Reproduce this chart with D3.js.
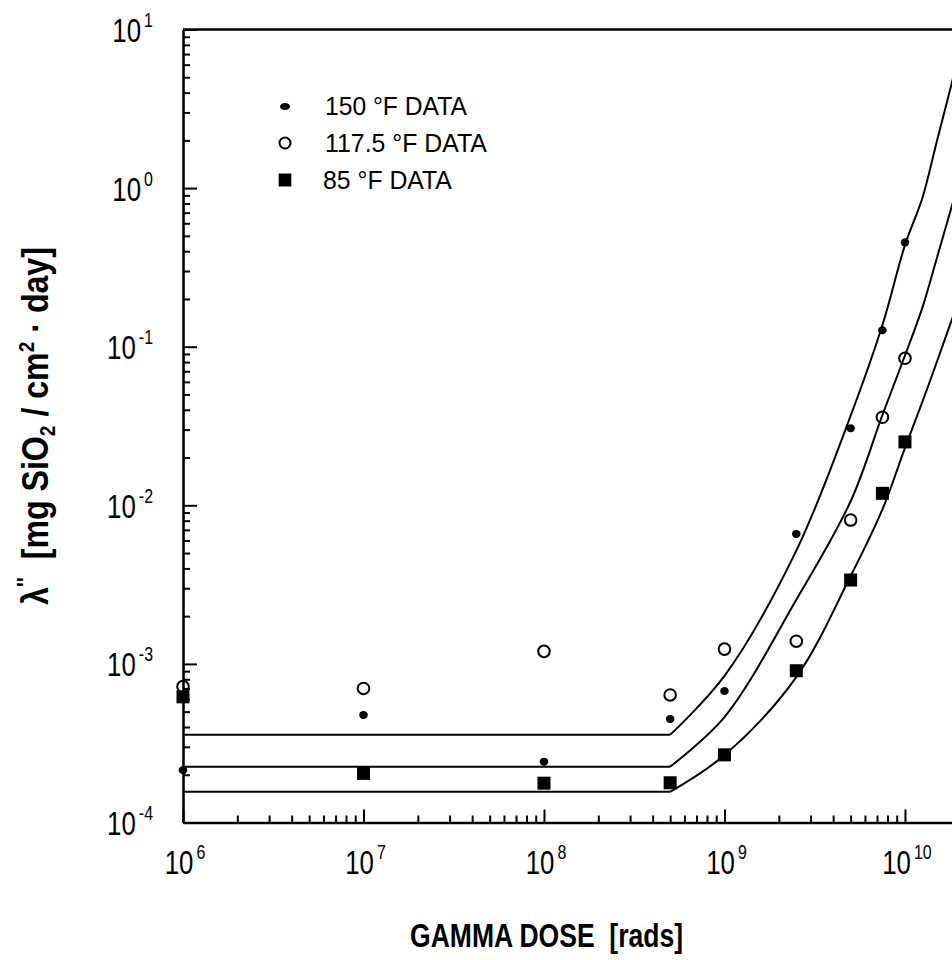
<!DOCTYPE html>
<html>
<head>
<meta charset="utf-8">
<script src="https://cdn.jsdelivr.net/npm/d3@7"></script>
<style>
  html, body { margin: 0; padding: 0; background: #fff; }
  svg { display: block; }
  text { font-family: "Liberation Sans", Arial, Helvetica, sans-serif; fill: #000; white-space: pre; }
</style>
</head>
<body>
<svg id="chart" width="952" height="960"></svg>
<script>
// Gamma dose [rads] at which each dissolution rate was measured
const doses = [1e6, 1e7, 1e8, 5e8, 1e9, 2.5e9, 5e9, 7.5e9, 1e10];
// Measured rates, mg SiO2 / cm^2 / day
const rate150 = [2.14e-4, 4.77e-4, 2.42e-4, 4.5e-4, 6.75e-4, 6.6e-3, 0.0306, 0.127, 0.455];
const rate117 = [7.2e-4, 7.0e-4, 1.2e-3, 6.37e-4, 1.24e-3, 1.39e-3, 8.07e-3, 0.0359, 0.0845];
const rate85  = [6.2e-4, 2.04e-4, 1.77e-4, 1.78e-4, 2.67e-4, 9.06e-4, 3.38e-3, 0.0119, 0.0251];

// Model curves: flat below the threshold dose of 5e8 rads, rising above it
const flatDoses = [1e6, 5e8];
const fitDoses = [5e8, 1e9, 2.5e9, 5e9, 7.5e9, 1e10, 1.25e10, 1.5e10, 2e10];
const fit150 = [3.57e-4, 8.4e-4, 5.18e-3, 0.0367, 0.137, 0.437, 0.87, 1.96, 7.03];
const fit117 = [2.25e-4, 4.62e-4, 2.54e-3, 0.0106, 0.0371, 0.088, 0.177, 0.36, 1.12];
const fit85  = [1.56e-4, 2.66e-4, 8.26e-4, 3.58e-3, 9.42e-3, 0.023, 0.0451, 0.0798, 0.201];

// Axis decades and text
const xDecades = [6, 7, 8, 9, 10];
const yDecades = [1, 0, -1, -2, -3, -4];
const legendLabels = ["150 \u00B0F DATA", "117.5 \u00B0F DATA", "85 \u00B0F DATA"];
const xTitle = "GAMMA DOSE  [rads]";

const svg = d3.select("#chart");
svg.append("rect").attr("width", 952).attr("height", 960).attr("fill", "#fff");

const x = d3.scaleLog().domain([1e6, 2e10]).range([183, 959.3]);
const y = d3.scaleLog().domain([1e-4, 1e1]).range([822.5, 29.5]);

const isMajor = v => Math.abs(Math.log10(v) - Math.round(Math.log10(v))) < 1e-9;

function decadeTicks(lo, hi, max) {
  const out = [];
  for (let e = lo; e <= hi; e++) {
    for (let m = 1; m <= 9; m++) {
      const v = m * Math.pow(10, e);
      if (v <= max * 1.0000001) out.push(v);
    }
  }
  return out;
}

const xTicks = decadeTicks(6, 10, 2e10);
const yTicks = decadeTicks(-4, 1, 10);

// Left axis, ticks pointing inward
const gy = svg.append("g")
  .attr("transform", "translate(183,0)")
  .call(d3.axisLeft(y).tickValues(yTicks).tickFormat("").tickSizeOuter(0).tickSizeInner(-14));
gy.selectAll(".tick line").attr("x2", d => isMajor(d) ? 14 : 7).attr("stroke-width", 2);
gy.select(".domain").attr("stroke-width", 2.6);

// Bottom axis, ticks pointing inward
const gx = svg.append("g")
  .attr("transform", "translate(0,822.5)")
  .call(d3.axisBottom(x).tickValues(xTicks).tickFormat("").tickSizeOuter(0).tickSizeInner(-13));
gx.selectAll(".tick line").attr("y2", d => isMajor(d) ? -13 : -7).attr("stroke-width", 2);
gx.select(".domain").attr("stroke-width", 2.6);

// Top frame line
svg.append("line")
  .attr("x1", x(1e6)).attr("x2", x(2e10))
  .attr("y1", y(10)).attr("y2", y(10))
  .attr("stroke", "#000").attr("stroke-width", 2.6);

// Power-of-ten tick labels in a narrow face
function powLabel(px, py, exp, anchor) {
  const g = svg.append("g").attr("transform", `translate(${px},${py}) scale(0.76,1)`);
  const t = g.append("text").attr("text-anchor", anchor).attr("font-size", 34);
  t.append("tspan").text("10");
  t.append("tspan").attr("font-size", 21).attr("dx", 4).attr("dy", -15).text(String(exp));
}
xDecades.forEach(e => powLabel(x(Math.pow(10, e)) + 2, 873.5, e, "middle"));
yDecades.forEach(e => powLabel(153, y(Math.pow(10, e)) + 12.5, e, "end"));

// Fit a text element to a given length along its baseline
function fitTransform(node, tx, ty, width, rot) {
  const len = node.getComputedTextLength();
  const s = width / len;
  d3.select(node).attr("transform",
    `translate(${tx},${ty})` + (rot ? ` rotate(${rot})` : "") + ` scale(${s},1)`);
}

// X axis title
const xt = svg.append("text")
  .attr("font-weight", "bold").attr("font-size", 33)
  .attr("text-anchor", "middle")
  .text(xTitle);
fitTransform(xt.node(), 546.5, 946.5, 273, 0);

// Y axis title
const yt = svg.append("text")
  .attr("font-weight", "bold").attr("font-size", 37)
  .attr("text-anchor", "middle");
yt.append("tspan").text("\u03BB");
yt.append("tspan").attr("font-size", 24).attr("dy", -14).text("''");
yt.append("tspan").attr("dy", 14).text("  [mg SiO");
yt.append("tspan").attr("font-size", 22).attr("dy", 7).text("2");
yt.append("tspan").attr("dy", -7).text(" / cm");
yt.append("tspan").attr("font-size", 22).attr("dy", -14).text("2");
yt.append("tspan").attr("dy", 14).text(" \u00B7 day]");
fitTransform(yt.node(), 48, 426, 358, -90);

// Model curves: straight plateau, then a smooth rise
const flatLine = d3.line().x(d => x(d[0])).y(d => y(d[1]));
const riseLine = d3.line().x(d => x(d[0])).y(d => y(d[1])).curve(d3.curveCatmullRom.alpha(0.5));
[fit150, fit117, fit85].forEach(fit => {
  const g = svg.append("g").attr("fill", "none").attr("stroke", "#000").attr("stroke-width", 2);
  g.append("path").datum(flatDoses.map(d => [d, fit[0]])).attr("d", flatLine);
  g.append("path").datum(fitDoses.map((d, i) => [d, fit[i]])).attr("d", riseLine);
});

// Measured points
const pts = arr => doses.map((d, i) => [d, arr[i]]);

svg.append("g").selectAll("ellipse").data(pts(rate150)).join("ellipse")
  .attr("cx", d => x(d[0])).attr("cy", d => y(d[1]))
  .attr("rx", 4.3).attr("ry", 4).attr("fill", "#000");

svg.append("g").selectAll("circle").data(pts(rate117)).join("circle")
  .attr("cx", d => x(d[0])).attr("cy", d => y(d[1]))
  .attr("r", 5.8).attr("fill", "none").attr("stroke", "#000").attr("stroke-width", 2);

svg.append("g").selectAll("rect").data(pts(rate85)).join("rect")
  .attr("x", d => x(d[0]) - 6.5).attr("y", d => y(d[1]) - 6.5)
  .attr("width", 13).attr("height", 13).attr("fill", "#000");

// Legend
const legend = svg.append("g");
const legY = [106.5, 143, 180];
legend.append("ellipse").attr("cx", 285).attr("cy", legY[0]).attr("rx", 5).attr("ry", 3.6).attr("fill", "#000");
legend.append("circle").attr("cx", 285).attr("cy", legY[1]).attr("r", 5.5)
  .attr("fill", "none").attr("stroke", "#000").attr("stroke-width", 2);
legend.append("rect").attr("x", 285 - 6.3).attr("y", legY[2] - 6.5).attr("width", 12.6).attr("height", 13).attr("fill", "#000");

const legWidths = [142, 162, 129];
legendLabels.forEach((lbl, i) => {
  const t = legend.append("text").attr("font-size", 25).text(lbl);
  fitTransform(t.node(), i === 2 ? 323 : 325, legY[i] + 8.5, legWidths[i], 0);
});
</script>
</body>
</html>
